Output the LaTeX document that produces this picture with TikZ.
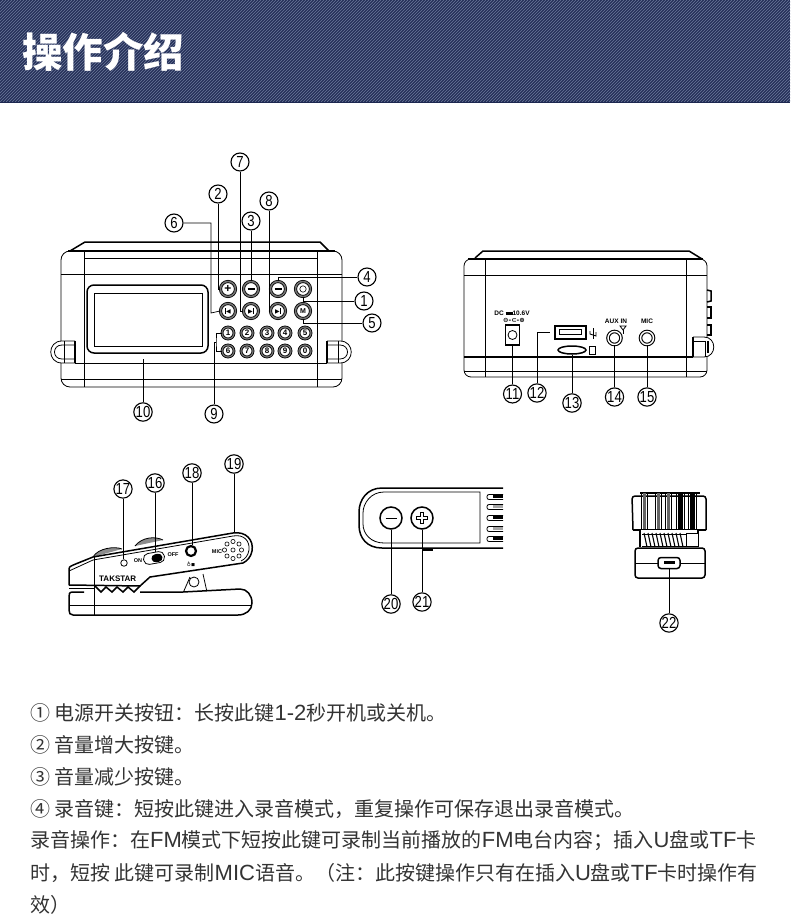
\documentclass[tikz,border=0pt]{standalone}
\usepackage{fontspec}
\usetikzlibrary{shapes.geometric}
\setmainfont{Liberation Sans}
\newfontfamily\cjkfont{Noto Sans CJK SC}
\newfontfamily\symfont{DejaVu Sans}
\newfontfamily\tagfont[FakeStretch=0.82]{Liberation Sans}
\newcommand{\lat}[1]{{\rmfamily\fontsize{22}{20}\selectfont #1}}
\definecolor{navy}{HTML}{1C2750}
\definecolor{stripe}{HTML}{5E6B8E}
\definecolor{bodytext}{HTML}{333333}
\tikzset{
	tag/.style={circle,draw,line width=1.1pt,fill=white,inner sep=0pt,minimum size=18pt,font=\tagfont\fontsize{16}{16}\selectfont},
	leader/.style={line width=0.7pt},
	outline/.style={line width=0.8pt},
	heavy/.style={line width=1.5pt},
	bigkey/.style={circle,draw,double=black!55,double distance=1.5pt,line width=0.8pt,fill=white,inner sep=0pt,minimum size=15pt,font=\bfseries\fontsize{12}{12}\selectfont},
	numkey/.style={circle,draw,double=black!55,double distance=1.2pt,line width=0.8pt,fill=white,inner sep=0pt,minimum size=12pt,font=\bfseries\fontsize{8}{8}\selectfont},
	jack/.style={circle,draw,line width=1.1pt,double=white,double distance=1.4pt,fill=white,inner sep=0pt,minimum size=13pt},
	small/.style={inner sep=0pt,font=\bfseries\fontsize{6.5}{6.5}\selectfont},
	textline/.style={anchor=west,inner sep=0pt,text=bodytext,font=\cjkfont\fontsize{20}{20}\selectfont},
}
\begin{document}
\begin{tikzpicture}[x=1pt,y=-1pt]
	\useasboundingbox (0,0) rectangle (790,920);
	\fill[navy] (0,0) rectangle (790,103);
	\begin{scope}
		\clip (0,0) rectangle (790,102);
		\foreach \i in {-102,-99,...,790}
			\draw[stripe,line width=0.8pt] (\i,102) -- ({\i+102},0);
	\end{scope}
	\node[anchor=west,inner sep=0pt,text=white,font=\cjkfont\bfseries\fontsize{40.5}{40.5}\selectfont] (title) at (22,52) {操作介绍};

	\draw[heavy] (70,251) -- (85,242) -- (320,242) -- (329,251);
	\draw[outline,rounded corners=9pt] (61,251) rectangle (342,387);
	\draw[heavy] (68,251) -- (335,251);
	\draw[outline] (84,258) -- (317,258);
	\draw[outline] (61,274) -- (342,274);
	\draw[outline] (75,363) -- (327,363);
	\draw[outline] (61,379) -- (342,379);
	\draw[outline] (84,251) -- (84,387);
	\draw[outline] (317,251) -- (317,387);
	\draw[heavy,rounded corners=7pt] (87,285) rectangle (208,353);
	\draw[outline] (94,293) rectangle (202,346);
	\draw[outline,fill=white] (75,341) -- (62,341) .. controls (47,341) and (47,363) .. (62,363) -- (75,363);
	\draw[outline] (75,345) -- (62,345) .. controls (52,345) and (52,359) .. (62,359) -- (75,359);
	\draw[heavy] (75,341) -- (75,363);
	\draw[outline] (64,341) -- (64,363);
	\draw[outline,fill=white] (327,341) -- (340,341) .. controls (355,341) and (355,363) .. (340,363) -- (327,363);
	\draw[outline] (327,345) -- (340,345) .. controls (350,345) and (350,359) .. (340,359) -- (327,359);
	\draw[heavy] (327,341) -- (327,363);
	\draw[outline] (338,341) -- (338,363);

	\node[bigkey] (plus) at (228,289) {+};
	\node[bigkey] (minus) at (251,289) {\rule{7pt}{2pt}};
	\node[bigkey] (record) at (278,289) {\rule{7pt}{2pt}};
	\node[bigkey] (power) at (303,289) {\tikz\draw[line width=0.6pt] (0,0) circle (3.2pt);};
	\node[bigkey,font=\symfont\fontsize{6}{6}\selectfont] (prev) at (228,311) {\rule{0.9pt}{6pt}◀};
	\node[bigkey,font=\symfont\fontsize{6}{6}\selectfont] (play) at (251,311) {▶\rule{0.9pt}{6pt}};
	\node[bigkey,font=\symfont\fontsize{6}{6}\selectfont] (next) at (278,311) {▶\rule{0.9pt}{6pt}};
	\node[bigkey,font=\bfseries\fontsize{7}{7}\selectfont] (mode) at (303,311) {M};
	\foreach \x/\n/\m in {228/1/6,247/2/7,267/3/8,285/4/9,305/5/0}{
		\node[numkey] (num\n) at (\x,333) {\n};
		\node[numkey] (num\m) at (\x,351) {\m};
	}

	\node[tag] (t1) at (364,301) {1};
	\node[tag] (t2) at (218,194) {2};
	\node[tag] (t3) at (251,221) {3};
	\node[tag] (t4) at (367,277) {4};
	\node[tag] (t5) at (372,323) {5};
	\node[tag] (t6) at (174,223) {6};
	\node[tag] (t7) at (240,162) {7};
	\node[tag] (t8) at (269,201) {8};
	\node[tag] (t9) at (214,414) {9};
	\node[tag] (t10) at (143,412) {10};
	\coordinate (dispbody) at (143,359);
	\coordinate (fork) at (216,342);
	\draw[leader] (t1.west) -| (power.south);
	\draw[leader] (t2.south) |- (plus.west);
	\draw[leader] (t3.south) -- (minus.north);
	\draw[leader] (t4.west) -| (record.north);
	\draw[leader] (t5.west) -| (mode.south);
	\draw[leader] (t6.east) -| (211,313) -- (prev.west);
	\draw[leader] (t7.south) |- (play.west);
	\draw[leader] (t8.south) |- (next.west);
	\draw[leader] (num1.west) -| (fork) |- (num6.west);
	\draw[leader] (t9.north) |- (fork);
	\draw[leader] (t10.north) -- (dispbody);

	\draw[heavy] (475,258) -- (483,251) -- (689,251) -- (702,259);
	\draw[outline,rounded corners=7pt] (464,259) rectangle (707,377);
	\draw[heavy] (468,259) -- (703,259);
	\draw[outline] (464,275) -- (707,275);
	\draw[heavy] (464,357) -- (693,357);
	\draw[outline] (464,371) -- (707,371);
	\draw[outline] (485,259) -- (485,377);
	\draw[outline] (686,259) -- (686,377);
	\draw[heavy] (707,290) -- (711,291) -- (711,301) -- (707,302);
	\draw[heavy] (707,307) -- (711,307) -- (711,318) -- (707,318);
	\draw[heavy] (707,325) -- (711,325) -- (711,335) -- (707,335);
	\draw[outline,fill=white] (693,337) -- (704,337) .. controls (717,337) and (717,357) .. (704,357) -- (693,357);
	\draw[heavy] (693,337) -- (693,357);
	\draw[outline] (693,341) -- (705,341) -- (705,357);
	\draw[heavy] (708,341) -- (708,353);

	\node[small] (dclabel) at (512,313) {DC \rule{7pt}{3pt}10.6V};
	\node[small,font=\symfont\bfseries\fontsize{6.5}{6.5}\selectfont] (polarity) at (514,320) {⊖-⊂-⊕};
	\node[draw,heavy,minimum width=14pt,minimum height=20pt,inner sep=0pt] (dcjack) at (512.5,335) {};
	\node[circle,draw,outline,minimum size=9pt,inner sep=0pt] (dchole) at (512.5,335) {};
	\node[draw,line width=2pt,minimum width=31pt,minimum height=13pt,inner sep=0pt] (usb) at (570,332) {};
	\node[draw,line width=1pt,minimum width=22pt,minimum height=5pt,inner sep=0pt] (usbslot) at (570,332) {};
	\draw[outline] (593,328) -- (593,339);
	\draw[outline] (590,331) -- (590,334) -- (596,336) -- (596,332);
	\node[ellipse,draw,heavy,minimum width=28pt,minimum height=8pt,inner sep=0pt] (card) at (572,350) {};
	\draw[outline] (589,346) -- (595,346) -- (595,354) -- (589,354) -- cycle;
	\node[jack] (aux) at (614.5,338) {};
	\node[jack] (mic) at (647,338) {};
	\node[small] (auxlabel) at (616,321) {AUX IN};
	\node[small] (miclabel) at (647,321) {MIC};
	\draw[outline] (620,326) -- (626,326) -- (623,330) -- cycle;
	\draw[outline] (623,330) -- (623,334);

	\node[tag] (t11) at (512.5,394) {11};
	\node[tag] (t12) at (537,393) {12};
	\node[tag] (t13) at (572,403) {13};
	\node[tag] (t14) at (614.5,397) {14};
	\node[tag] (t15) at (647,397) {15};
	\draw[leader] (t11.north) -- (dcjack.south);
	\draw[leader] (t12.north) |- (550,332);
	\draw[leader] (t13.north) -- (card.south);
	\draw[leader] (t14.north) -- (aux.south);
	\draw[leader] (t15.north) -- (mic.south);

	\draw[outline,fill=black!45] (93,557) .. controls (98,548) and (115,546) .. (122,549);
	\draw[outline,fill=black!45] (135,546) .. controls (142,537) and (155,536) .. (163,540);
	\draw[heavy,fill=white] (69,585) -- (69,569) .. controls (69,566) and (71,566) .. (93,557) -- (233,533) .. controls (246,531) and (254,540) .. (252,551) .. controls (251,557) and (247,561) .. (243,563) -- (150,577) -- (140,586) -- (69,585);
	\draw[outline] (69,571) -- (93,560) -- (233,536) .. controls (244,534) and (250,541) .. (249,550) .. controls (248,556) and (245,559) .. (241,561);
	\draw[outline] (190,577) -- (183,593);
	\draw[outline] (203,574) -- (207,592);
	\node[circle,draw,outline,fill=white,minimum size=10pt,inner sep=0pt] (hinge) at (194,582) {};
	\draw[heavy,fill=white] (84,592) -- (73,592) .. controls (69,592) and (69,594) .. (69,597) -- (69,610) .. controls (69,613) and (70,615) .. (73,615) -- (238,615) .. controls (246,615) and (252,610) .. (252,603) .. controls (252,595) and (247,589) .. (240,589) -- (183,592) -- (140,592);
	\draw[outline] (69,605) -- (251,605);
	\draw[outline] (94,557) -- (94,615);
	\draw[heavy] (95,586) -- (101,592) -- (106,587) -- (112,592) -- (117,587) -- (123,592) -- (128,587) -- (134,592) -- (140,586);
	\draw[outline] (69,588) -- (95,588);

	\node[circle,draw,outline,minimum size=6.5pt,inner sep=0pt] (led) at (124,563) {};
	\node[draw,outline,rounded corners=5pt,minimum width=21pt,minimum height=11pt,inner sep=0pt,rotate=10] (switch) at (154,558) {};
	\node[fill=black,rounded corners=4pt,minimum width=11pt,minimum height=8pt,inner sep=0pt,rotate=10] (slider) at (157,558) {};
	\node[small,font=\bfseries\fontsize{5.5}{5.5}\selectfont] (onlabel) at (138,561) {ON};
	\node[small,font=\bfseries\fontsize{5.5}{5.5}\selectfont] (offlabel) at (173,555) {OFF};
	\node[circle,draw,line width=2.2pt,fill=white,minimum size=10pt,inner sep=0pt] (earjack) at (191,551) {};
	\node[small,font=\symfont\fontsize{5.5}{5.5}\selectfont] (earicon) at (191,564) {♁◾};
	\node[small,font=\bfseries\fontsize{5.5}{5.5}\selectfont] (clipmic) at (217,552) {MIC};
	\foreach \a in {0,45,...,315}
		\draw[line width=0.6pt] ({233+8.5*cos(\a)},{550+8.5*sin(\a)}) circle (2.1);
	\draw[line width=0.6pt] (233,550) circle (2.1);
	\node[anchor=west,small,font=\bfseries\fontsize{8}{8}\selectfont] (brand) at (99,579) {TAKSTAR};

	\node[tag] (t16) at (155,483) {16};
	\node[tag] (t17) at (123,489) {17};
	\node[tag] (t18) at (192,473) {18};
	\node[tag] (t19) at (234,464) {19};
	\coordinate (cliptop) at (234,532);
	\draw[leader] (t16.south) -- (t16.south |- switch.north);
	\draw[leader] (t17.south) -- (t17.south |- led.north);
	\draw[leader] (t18.south) -- (t18.south |- earjack.north);
	\draw[leader] (t19.south) -- (cliptop);

	\draw[heavy] (503,488) -- (382,488) .. controls (367,488) and (359,500) .. (359,512) -- (359,525) .. controls (359,538) and (367,548) .. (382,548) -- (503,548);
	\draw[outline] (480,492) -- (384,492) .. controls (371,492) and (363,503) .. (363,513) -- (363,524) .. controls (363,534) and (371,543) .. (384,543) -- (480,543) -- cycle;
	\foreach \y/\d in {497/100,507/35,518/100,529/35,539/100}{
		\draw[outline,rounded corners=2pt] (503,{\y-2.5}) -- (487,{\y-2.5}) -- (487,{\y+2.5}) -- (503,{\y+2.5});
		\fill[black!\d] (493,{\y-2.5}) rectangle (503,{\y+0.5});
	}
	\draw[heavy] (422,550) -- (433,550);
	\node[circle,draw,heavy,fill=white,minimum size=22pt,inner sep=0pt,font=\fontsize{20}{20}\selectfont] (vdown) at (391,518) {\rule{11pt}{1pt}};
	\node[circle,draw,heavy,fill=white,minimum size=22pt,inner sep=0pt] (vup) at (422,518) {\tikz\draw[line width=0.7pt] (-5.5pt,-1.4pt) -- (-1.4pt,-1.4pt) -- (-1.4pt,-5.5pt) -- (1.4pt,-5.5pt) -- (1.4pt,-1.4pt) -- (5.5pt,-1.4pt) -- (5.5pt,1.4pt) -- (1.4pt,1.4pt) -- (1.4pt,5.5pt) -- (-1.4pt,5.5pt) -- (-1.4pt,1.4pt) -- (-5.5pt,1.4pt) -- cycle;};
	\node[tag] (t20) at (391,604) {20};
	\node[tag] (t21) at (422,602) {21};
	\draw[leader] (t20.north) -- (vdown.south);
	\draw[leader] (t21.north) -- (vup.south);

	\draw[heavy,rounded corners=3pt] (633,530) -- (632,496) -- (706,496) -- (706,530);
	\draw[heavy] (640,493) -- (700,493);
	\foreach \x/\w/\d in {643/3/60,657/3/60,667/3/60,678/5/100,690/5/100}{
		\fill[black!\d] (\x,493) rectangle ({\x+\w},529);
		\draw[line width=0.5pt] ({\x-2},493) -- ({\x-2},529);
		\draw[line width=0.5pt] ({\x+\w+1},493) -- ({\x+\w+1},529);
	}
	\draw[outline] (640,529) -- (698,529);
	\draw[heavy] (633,530) -- (640,530) -- (640,547);
	\draw[heavy] (706,530) -- (698,530) -- (698,547);
	\draw[outline,fill=white] (686,533) rectangle (698,546);
	\foreach \x in {644,648,...,680}
		\draw[line width=1.1pt] (\x,533) -- ({\x+3},547);
	\draw[outline] (642,534) -- (686,534);
	\draw[outline] (642,546) -- (686,546);
	\draw[heavy,rounded corners=3pt] (635,548) -- (635,578) -- (705,578) -- (705,548) -- cycle;
	\draw[outline] (635,563) -- (658,563);
	\draw[outline] (680,563) -- (705,563);
	\node[draw,heavy,rounded corners=3pt,fill=white,minimum width=22pt,minimum height=11pt,inner sep=0pt] (microusb) at (669,563) {};
	\node[fill=black,minimum width=11pt,minimum height=3pt,inner sep=0pt] (usbtongue) at (669,562) {};
	\node[tag] (t22) at (669,623) {22};
	\draw[leader] (t22.north) -- (microusb.south);

	\node[textline] (l1) at (30,713) {① 电源开关按钮：长按此键\lat{1-2}秒开机或关机。};
	\node[textline] (l2) at (30,745) {② 音量增大按键。};
	\node[textline] (l3) at (30,777) {③ 音量减少按键。};
	\node[textline] (l4) at (30,809) {④ 录音键：短按此键进入录音模式，重复操作可保存退出录音模式。};
	\node[textline] (l5) at (30,841) {录音操作：在\lat{FM}模式下短按此键可录制当前播放的\lat{FM}电台内容；插入\lat{U}盘或\lat{TF}卡};
	\node[textline] (l6) at (30,873) {时，短按 此键可录制\lat{MIC}语音。（注：此按键操作只有在插入\lat{U}盘或\lat{TF}卡时操作有};
	\node[textline] (l7) at (30,905) {效）};
\end{tikzpicture}
\end{document}
